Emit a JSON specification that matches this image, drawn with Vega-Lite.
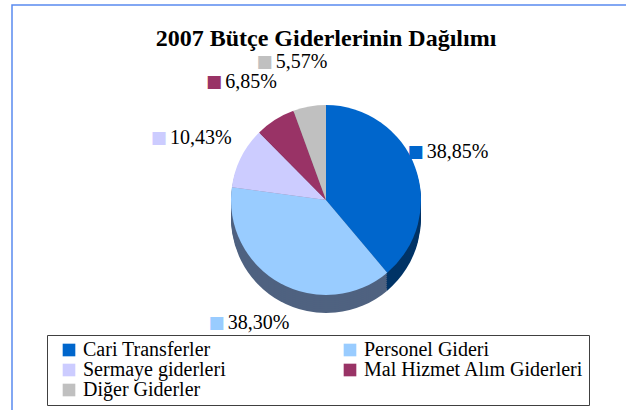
{
  "$schema": "https://vega.github.io/schema/vega-lite/v6.json",
  "width": 628,
  "height": 420,
  "autosize": {"type": "none"},
  "padding": {"left": 12, "top": 5, "right": 0, "bottom": 0},
  "background": "white",
  "view": {"stroke": "#5A8AF0", "strokeWidth": 1.5},
  "title": {"text": "2007 Bütçe Giderlerinin Dağılımı", "font": "Liberation Serif", "fontSize": 24, "fontWeight": "bold", "color": "black", "anchor": "middle", "offset": -46},
  "data": {"values": [
    {"idx": 1, "kategori": "Cari Transferler", "pay": 38.85, "etiket": "38,85%"},
    {"idx": 2, "kategori": "Personel Gideri", "pay": 38.30, "etiket": "38,30%"},
    {"idx": 3, "kategori": "Sermaye giderleri", "pay": 10.43, "etiket": "10,43%"},
    {"idx": 4, "kategori": "Mal Hizmet Alım Giderleri", "pay": 6.85, "etiket": "6,85%"},
    {"idx": 5, "kategori": "Diğer Giderler", "pay": 5.57, "etiket": "5,57%"}
  ]},
  "encoding": {
    "theta": {"field": "pay", "type": "quantitative", "stack": true},
    "order": {"field": "idx", "type": "quantitative"}
  },
  "layer": [
    {"mark": {"type": "arc", "radius": 95, "yOffset": 3}, "encoding": {"fill": {"field": "kategori", "type": "nominal", "scale": {"range": ["#003366", "#737373", "#5C1F3D", "#4F6280", "#7A7A99"]}, "legend": null}}},
    {"mark": {"type": "arc", "radius": 95, "yOffset": 1}, "encoding": {"fill": {"field": "kategori", "type": "nominal", "legend": null}}},
    {"mark": {"type": "arc", "radius": 95, "yOffset": -1}, "encoding": {"fill": {"field": "kategori", "type": "nominal", "legend": null}}},
    {"mark": {"type": "arc", "radius": 95, "yOffset": -3}, "encoding": {"fill": {"field": "kategori", "type": "nominal", "legend": null}}},
    {"mark": {"type": "arc", "radius": 95, "yOffset": -5}, "encoding": {"fill": {"field": "kategori", "type": "nominal", "legend": null}}},
    {"mark": {"type": "arc", "radius": 95, "yOffset": -7}, "encoding": {"fill": {"field": "kategori", "type": "nominal", "legend": null}}},
    {"mark": {"type": "arc", "radius": 95, "yOffset": -9}, "encoding": {"fill": {"field": "kategori", "type": "nominal", "legend": null}}},
    {"mark": {"type": "arc", "radius": 95, "yOffset": -11}, "encoding": {"fill": {"field": "kategori", "type": "nominal", "legend": null}}},
    {"mark": {"type": "arc", "radius": 95, "yOffset": -13}, "encoding": {"fill": {"field": "kategori", "type": "nominal", "legend": null}}},
    {"mark": {"type": "arc", "radius": 95, "yOffset": -15}, "encoding": {"color": {"field": "kategori", "type": "nominal", "scale": {"domain": ["Cari Transferler", "Personel Gideri", "Sermaye giderleri", "Mal Hizmet Alım Giderleri", "Diğer Giderler"], "range": ["#0066CC", "#99CCFF", "#CCCCFF", "#993366", "#C0C0C0"]}, "legend": {"orient": "none", "legendX": 35, "legendY": 330, "columns": 2, "direction": "horizontal", "title": null, "symbolType": "square", "symbolSize": 160, "symbolStrokeWidth": 0, "symbolOffset": 7, "labelFont": "Liberation Serif", "labelFontSize": 20, "labelColor": "black", "columnPadding": 107, "rowPadding": 0, "padding": 5, "strokeColor": "#404040", "fillColor": "white", "labelOffset": 4, "labelLimit": 400}}}},
    {"mark": {"type": "text", "radius": 140, "yOffset": -15, "font": "Liberation Serif", "fontSize": 20, "align": "center", "baseline": "middle", "color": "black"}, "encoding": {"text": {"field": "etiket"}}},
    {"mark": {"type": "text", "radius": 140, "yOffset": -15, "dx": -42, "font": "DejaVu Sans", "fontSize": 17, "align": "center", "baseline": "middle"}, "encoding": {"text": {"value": "■"}, "color": {"field": "kategori", "type": "nominal"}, "opacity": {"condition": {"test": "datum.idx <= 3", "value": 1}, "value": 0}}},
    {"mark": {"type": "text", "radius": 140, "yOffset": -15, "dx": -37, "font": "DejaVu Sans", "fontSize": 17, "align": "center", "baseline": "middle"}, "encoding": {"text": {"value": "■"}, "color": {"field": "kategori", "type": "nominal"}, "opacity": {"condition": {"test": "datum.idx > 3", "value": 1}, "value": 0}}}
  ]
}
